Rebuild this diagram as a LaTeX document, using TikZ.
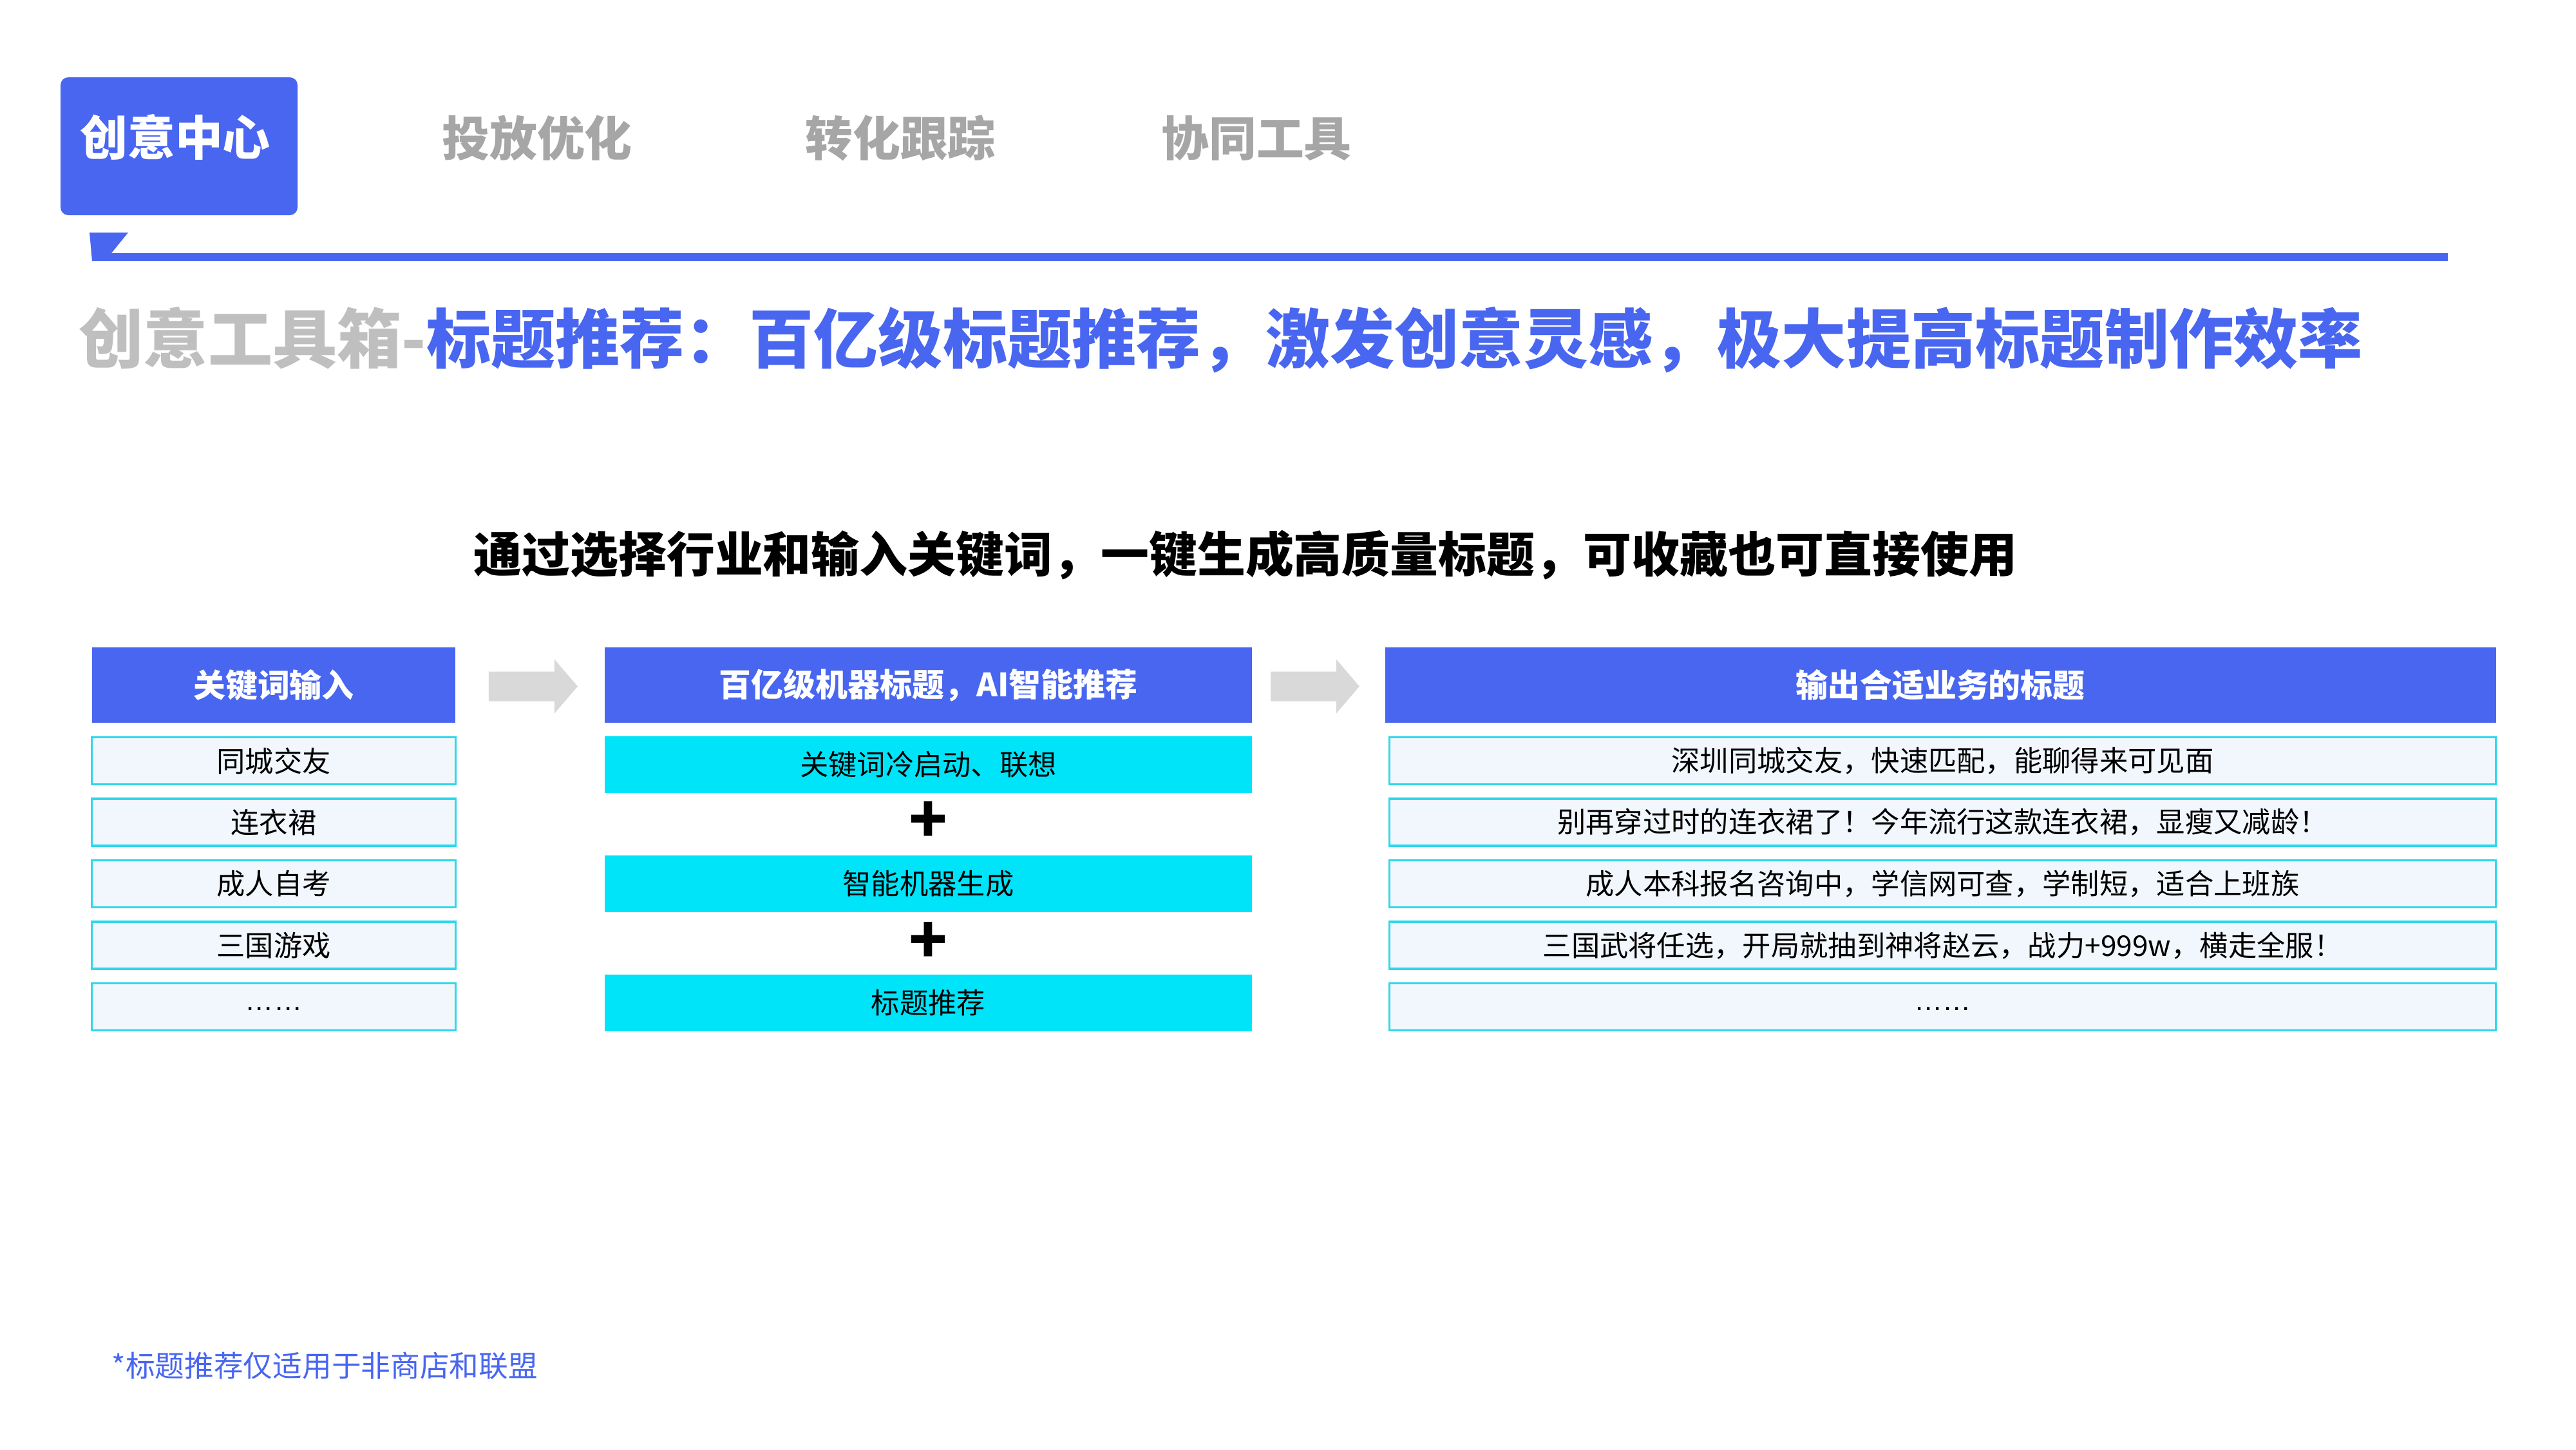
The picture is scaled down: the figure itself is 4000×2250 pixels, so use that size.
\documentclass[tikz,border=0pt]{standalone}
\usepackage{fontspec}
\usetikzlibrary{calc}
\setmainfont{Noto Sans CJK SC}
\newfontfamily\latinf{Liberation Sans}
\definecolor{mainblue}{HTML}{4866F0}
\definecolor{tabgray}{HTML}{A6A6A6}
\definecolor{titlegray}{HTML}{BFBFBF}
\definecolor{cyanbox}{HTML}{00E4FA}
\definecolor{rowfill}{HTML}{F2F7FE}
\definecolor{rowline}{HTML}{2ED8EC}
\definecolor{arrowgray}{HTML}{D9D9D9}
\tikzset{
  hdr/.style={fill=mainblue, draw=none, text=white, inner sep=0pt, minimum height=1.17cm,
    font=\fontsize{14.2pt}{17pt}\selectfont\bfseries},
  rowbox/.style={fill=rowfill, draw=rowline, line width=0.9pt, inner sep=0pt, minimum height=0.73cm,
    font=\fontsize{12.6pt}{15pt}\selectfont},
  cybox/.style={fill=cyanbox, draw=none, inner sep=0pt, minimum width=10.05cm, minimum height=0.88cm,
    font=\fontsize{12.6pt}{15pt}\selectfont},
  tabtxt/.style={text=tabgray, font=\fontsize{21pt}{25pt}\selectfont\bfseries, inner sep=0pt},
  plussign/.style={font=\fontsize{28pt}{32pt}\selectfont\bfseries, inner sep=0pt},
  blockarrow/.style={fill=arrowgray, draw=none}
}
\newcommand{\lowdots}{\raisebox{-3pt}{\latinf ……}}
\begin{document}
\begin{tikzpicture}[x=0.01cm,y=-0.01cm]
\useasboundingbox (0,0) rectangle (4000,2250);
\fill[white] (0,0) rectangle (4000,2250);

% tab bar
\fill[mainblue, rounded corners=0.12cm] (94,120) rectangle (462,334);
\node[text=white, font=\fontsize{21pt}{25pt}\selectfont\bfseries, inner sep=0pt] (tab1) at (272,213) {创意中心};
\node[tabtxt] (tab2) at (834,214) {投放优化};
\node[tabtxt] (tab3) at (1398,214) {转化跟踪};
\node[tabtxt] (tab4) at (1951,214) {协同工具};

% blue rule with flag
\fill[mainblue] (139,361) -- (199,361) -- (173,393) -- (3801,393) -- (3801,405) -- (143,405) -- cycle;

% title
\node[anchor=west, inner sep=0pt, font=\fontsize{28.5pt}{33pt}\selectfont\bfseries] (title) at (122,528)
  {\textcolor{titlegray}{创意工具箱-}\textcolor{mainblue}{标题推荐：百亿级标题推荐，激发创意灵感，极大提高标题制作效率}};

% subtitle
\node[inner sep=0pt, font=\fontsize{21.3pt}{25pt}\selectfont\bfseries] (sub) at (1934,862)
  {通过选择行业和输入关键词，一键生成高质量标题，可收藏也可直接使用};

% left column
\node[hdr, minimum width=5.64cm] (h1) at (425,1063.5) {关键词输入};
\node[rowbox, minimum width=5.64cm] (l1) at (425,1181) {同城交友};
\node[rowbox, minimum width=5.64cm] (l2) at (425,1276.5) {连衣裙};
\node[rowbox, minimum width=5.64cm] (l3) at (425,1372) {成人自考};
\node[rowbox, minimum width=5.64cm] (l4) at (425,1467.5) {三国游戏};
\node[rowbox, minimum width=5.64cm] (l5) at (425,1563) {\lowdots};

% middle column
\node[hdr, minimum width=10.05cm] (h2) at (1441.5,1063.5) {百亿级机器标题，AI智能推荐};
\node[cybox] (m1) at (1441.5,1186.5) {关键词冷启动、联想};
\node[plussign] (p1) at (1441.5,1276) {+};
\node[cybox] (m2) at (1441.5,1371.5) {智能机器生成};
\node[plussign] (p2) at (1441.5,1463) {+};
\node[cybox] (m3) at (1441.5,1556.5) {标题推荐};

% right column
\node[hdr, minimum width=17.24cm] (h3) at (3013,1063.5) {输出合适业务的标题};
\node[rowbox, minimum width=17.17cm] (r1) at (3016.5,1181) {深圳同城交友，快速匹配，能聊得来可见面};
\node[rowbox, minimum width=17.17cm] (r2) at (3016.5,1276.5) {别再穿过时的连衣裙了！今年流行这款连衣裙，显瘦又减龄！};
\node[rowbox, minimum width=17.17cm] (r3) at (3016.5,1372) {成人本科报名咨询中，学信网可查，学制短，适合上班族};
\node[rowbox, minimum width=17.17cm] (r4) at (3016.5,1467.5) {三国武将任选，开局就抽到神将赵云，战力+999w，横走全服！};
\node[rowbox, minimum width=17.17cm] (r5) at (3016.5,1563) {\lowdots};

% block arrows
\fill[blockarrow] ($(h1.east)+(51,-21)$) -- ($(h1.east)+(153,-21)$) -- ($(h1.east)+(153,-40)$)
  -- ($(h2.west)+(-41,2)$) -- ($(h1.east)+(153,44)$) -- ($(h1.east)+(153,25)$) -- ($(h1.east)+(51,25)$) -- cycle;
\fill[blockarrow] ($(h2.east)+(28,-21)$) -- ($(h2.east)+(130,-21)$) -- ($(h2.east)+(130,-40)$)
  -- ($(h3.west)+(-39,2)$) -- ($(h2.east)+(130,44)$) -- ($(h2.east)+(130,25)$) -- ($(h2.east)+(28,25)$) -- cycle;

% footnote
\node[anchor=west, inner sep=0pt, text=mainblue, font=\fontsize{13pt}{16pt}\selectfont] (foot) at (173,2120)
  {*标题推荐仅适用于非商店和联盟};
\end{tikzpicture}
\end{document}
